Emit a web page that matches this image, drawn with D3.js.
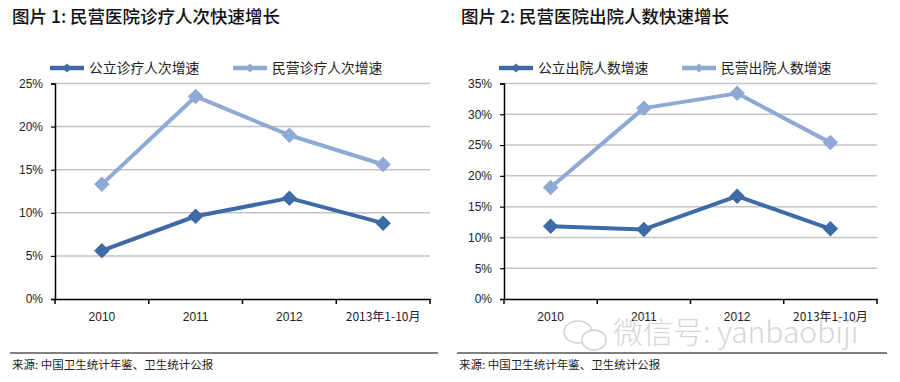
<!DOCTYPE html>
<html><head><meta charset="utf-8">
<script src="https://cdn.jsdelivr.net/npm/d3@7"></script>
<style>body{margin:0;background:#fff}svg{display:block}</style>
</head><body>
<svg id="c" width="900" height="382"></svg>
<script>
const categories = ["2010", "2011", "2012", "2013年1-10月"];
const leftTitle = "图片 1: 民营医院诊疗人次快速增长";
const leftSeriesNames = ["公立诊疗人次增速", "民营诊疗人次增速"];
const leftPublic = [5.6, 9.6, 11.7, 8.8];
const leftPrivate = [13.3, 23.5, 19.0, 15.6];
const leftTicks = [0, 5, 10, 15, 20, 25];
const rightTitle = "图片 2: 民营医院出院人数快速增长";
const rightSeriesNames = ["公立出院人数增速", "民营出院人数增速"];
const rightPublic = [11.8, 11.3, 16.7, 11.4];
const rightPrivate = [18.1, 31.0, 33.4, 25.4];
const rightTicks = [0, 5, 10, 15, 20, 25, 30, 35];
const sourceText = "来源: 中国卫生统计年鉴、卫生统计公报";
const watermark = "微信号: yanbaobiji";

const colors = ["#3E6BA5", "#8DA9D4"];
const svg = d3.select("#c");
const cjk = "'Noto Sans CJK SC', sans-serif";
const latin = "'Liberation Sans', Arial, sans-serif";

function drawChart(opt) {
  const g = svg.append("g");
  // title
  g.append("text").attr("x", opt.titleX).attr("y", 23)
    .attr("font-family", cjk).attr("font-size", 17.5).attr("font-weight", 500)
    .attr("fill", "#111").text(opt.title);

  const x = d3.scaleBand().domain(categories).range([opt.left, opt.right]);
  const y = d3.scaleLinear().domain([0, d3.max(opt.ticks)]).range([299, 83.5]);

  // gridlines
  g.append("g").selectAll("line").data(opt.ticks.filter(t => t > 0)).join("line")
    .attr("x1", opt.left).attr("x2", opt.right)
    .attr("y1", d => y(d)).attr("y2", d => y(d))
    .attr("stroke", "#c4c4c4").attr("stroke-width", 1.5);

  // y axis
  const ya = g.append("g").attr("transform", `translate(${opt.left},0)`)
    .call(d3.axisLeft(y).tickValues(opt.ticks).tickFormat(d => d + "%").tickSize(4).tickPadding(8));
  ya.select(".domain").attr("stroke", "#000").attr("stroke-width", 1.5);
  ya.selectAll(".tick line").attr("stroke", "#000").attr("stroke-width", 1.2);
  ya.selectAll("text").attr("font-family", latin).attr("font-size", 12).attr("fill", "#222");

  // x axis
  const xa = g.append("g").attr("transform", "translate(0,299)")
    .call(d3.axisBottom(x).tickSize(0).tickPadding(11));
  xa.select(".domain").attr("stroke", "#000").attr("stroke-width", 1.5);
  xa.selectAll("text").attr("font-family", d => d.length > 4 ? cjk : latin)
    .attr("font-size", 12).attr("fill", "#222").attr("dy", "0.9em");
  // boundary tick marks
  const bounds = categories.map(c => x(c)).concat([opt.right]);
  g.append("g").selectAll("line").data(bounds).join("line")
    .attr("x1", d => d).attr("x2", d => d).attr("y1", 299).attr("y2", 304)
    .attr("stroke", "#000").attr("stroke-width", 1.5);

  const cx = c => x(c) + x.bandwidth() / 2;
  const line = d3.line().x((d, i) => cx(categories[i])).y(d => y(d));

  [opt.s1, opt.s2].forEach((vals, si) => {
    g.append("path").datum(vals).attr("d", line).attr("fill", "none")
      .attr("stroke", colors[si]).attr("stroke-width", 4).attr("stroke-linejoin", "round");
    g.append("g").selectAll("path").data(vals).join("path")
      .attr("d", d3.symbol().type(d3.symbolSquare).size(120))
      .attr("transform", (d, i) => `translate(${cx(categories[i])},${y(d)}) rotate(45)`)
      .attr("fill", colors[si]);
  });

  // legend
  opt.names.forEach((n, i) => {
    const lx = opt.legendX[i];
    g.append("line").attr("x1", lx).attr("x2", lx + 34).attr("y1", 68).attr("y2", 68)
      .attr("stroke", colors[i]).attr("stroke-width", 4.5);
    g.append("path").attr("d", d3.symbol().type(d3.symbolSquare).size(40))
      .attr("transform", `translate(${lx + 17},68) rotate(45)`).attr("fill", colors[i]);
    g.append("text").attr("x", lx + 39).attr("y", 73).attr("font-family", cjk)
      .attr("font-size", 13.8).attr("fill", "#222").text(n);
  });

  // bottom rule & source
  g.append("line").attr("x1", opt.ruleX[0]).attr("x2", opt.ruleX[1]).attr("y1", 353).attr("y2", 353)
    .attr("stroke", "#000").attr("stroke-width", 1.2);
  g.append("text").attr("x", opt.ruleX[0] + 2).attr("y", 369).attr("font-family", cjk)
    .attr("font-size", 11.5).attr("fill", "#222").text(sourceText);
}

drawChart({titleX: 12, title: leftTitle, left: 55, right: 430,
  ticks: leftTicks, s1: leftPublic, s2: leftPrivate, names: leftSeriesNames,
  legendX: [50, 233], ruleX: [10, 438]});
drawChart({titleX: 461, title: rightTitle, left: 504, right: 877,
  ticks: rightTicks, s1: rightPublic, s2: rightPrivate, names: rightSeriesNames,
  legendX: [499, 682], ruleX: [457, 887]});

// watermark
const wm = svg.append("g");
wm.append("ellipse").attr("cx", 578).attr("cy", 332).attr("rx", 14).attr("ry", 11)
  .attr("fill", "none").attr("stroke", "#d2d2d2").attr("stroke-width", 1.5);
wm.append("ellipse").attr("cx", 594).attr("cy", 340).attr("rx", 12).attr("ry", 10)
  .attr("fill", "#fff").attr("stroke", "#d2d2d2").attr("stroke-width", 1.5);
wm.append("text").attr("x", 613).attr("y", 343).attr("font-family", cjk)
  .attr("font-size", 30).attr("font-weight", 300).attr("fill", "#d6d6d6").text(watermark);
</script>
</body></html>
